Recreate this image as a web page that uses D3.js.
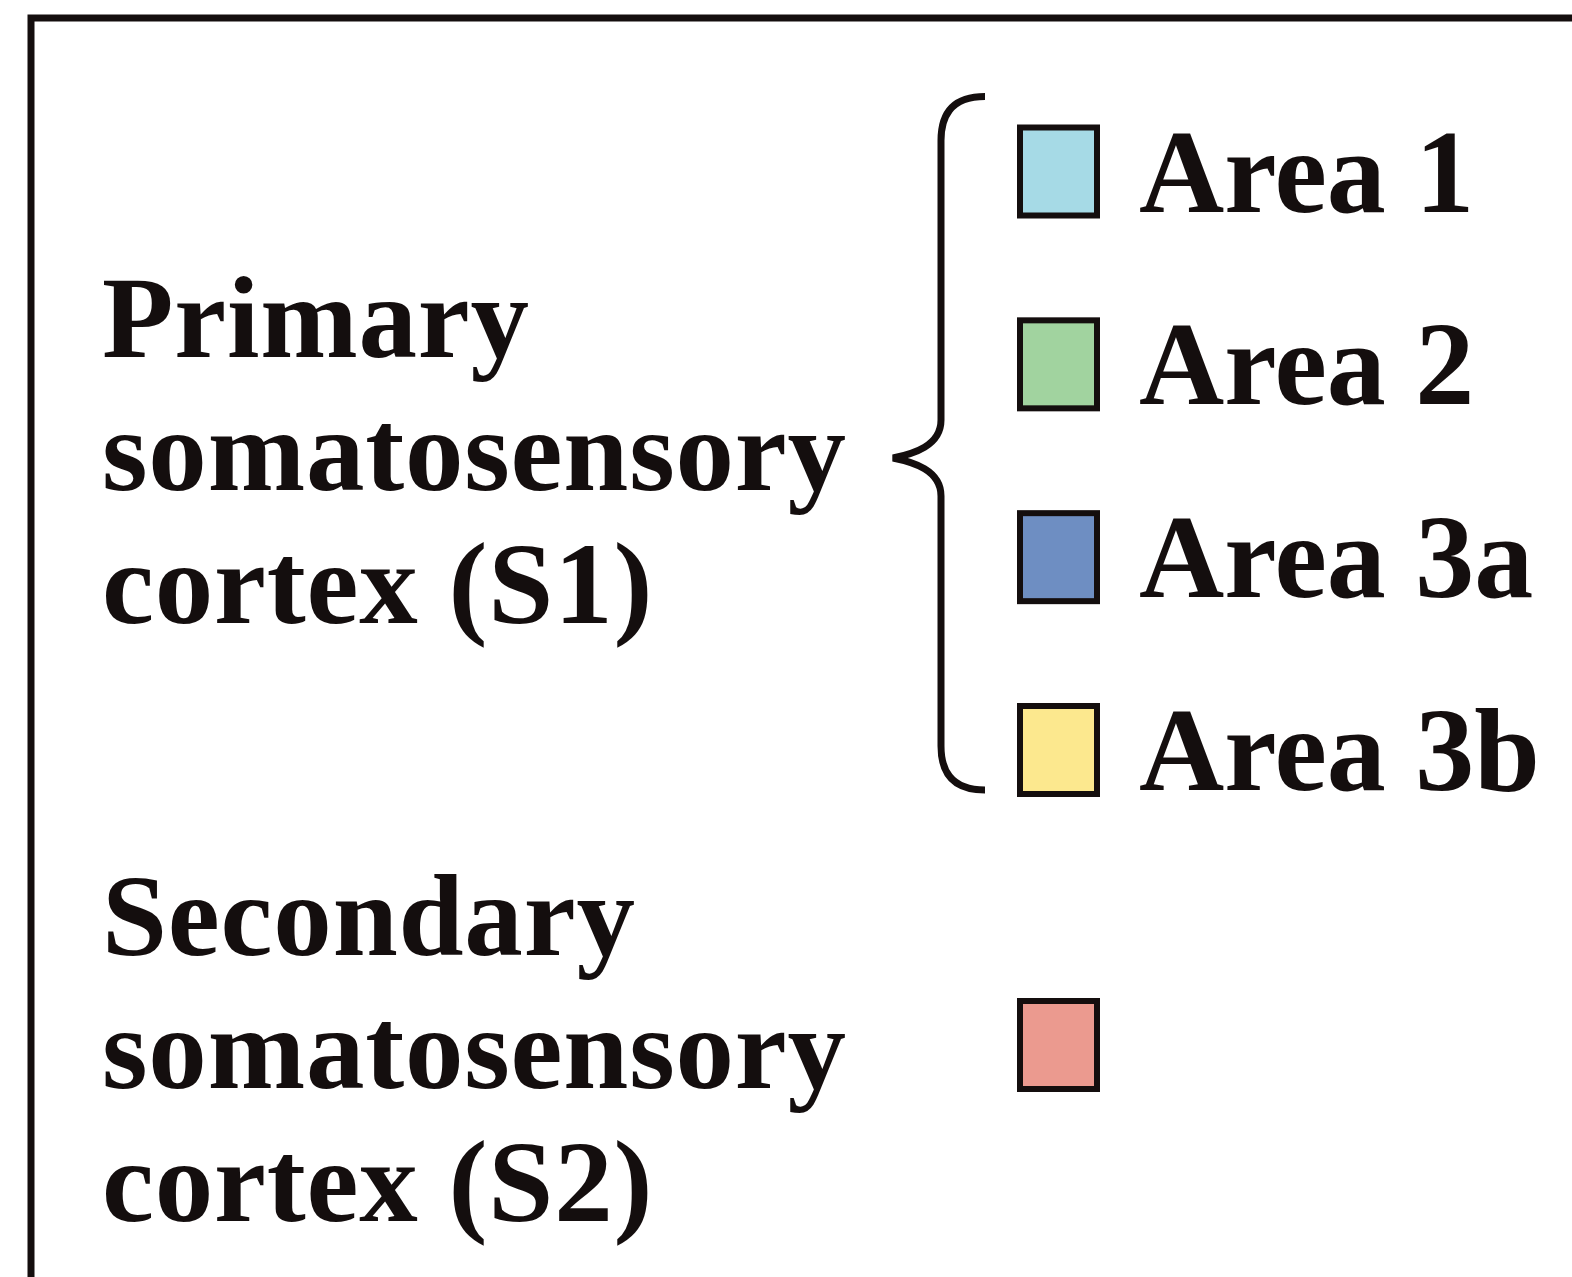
<!DOCTYPE html>
<html>
<head>
<meta charset="utf-8">
<script src="https://cdn.jsdelivr.net/npm/d3@7/dist/d3.min.js"></script>
<style>
  html, body { margin: 0; padding: 0; background: #fff; }
  svg { display: block; }
</style>
</head>
<body>
<svg id="chart" width="1572" height="1277"></svg>
<script>
// ---- data ----
const groupLabels = [
  ["Primary", "somatosensory", "cortex (S1)"],
  ["Secondary", "somatosensory", "cortex (S2)"]
];
const s1Areas = ["Area 1", "Area 2", "Area 3a", "Area 3b"];
const s1Colors = ["#a6dae6", "#a1d39f", "#6e8ec2", "#fce88e"];
const s2Label = ["S2"];
const s2Colors = ["#eb9a8f"];

// ---- layout ----
(function () {
  const W = 1572, H = 1277;
  const svg = d3.select("#chart");
  const ink = "#140e0e";

  // frame (right and bottom edges run off the picture)
  svg.append("rect")
    .attr("x", 31).attr("y", 18)
    .attr("width", W + 40).attr("height", H + 40)
    .attr("fill", "#fff").attr("stroke", ink).attr("stroke-width", 7);

  // vertical position of area swatch centres
  const yArea = d3.scalePoint().domain(s1Areas).range([171.5, 750]);
  const color = d3.scaleOrdinal().domain(s1Areas).range(s1Colors);

  const swW = 77, swH = 88;
  const swX = 1020;

  // S1 swatches
  svg.selectAll("rect.sw1").data(s1Areas).join("rect")
    .attr("class", "sw1")
    .attr("x", swX).attr("y", d => yArea(d) - swH / 2)
    .attr("width", swW).attr("height", swH)
    .attr("fill", d => color(d))
    .attr("stroke", ink).attr("stroke-width", 6);

  // S1 labels
  svg.selectAll("text.al").data(s1Areas).join("text")
    .attr("class", "al")
    .attr("x", 1139).attr("y", d => yArea(d) + 40)
    .attr("font-family", "'Liberation Serif', 'DejaVu Serif', serif")
    .attr("font-weight", "bold")
    .attr("font-size", 118)
    .attr("fill", ink)
    .text(d => d);

  // left group labels
  const lineGap = 133;
  const groupBaselines = [357, 955];
  groupLabels.forEach((lines, gi) => {
    svg.append("g").selectAll("text").data(lines).join("text")
      .attr("x", 102)
      .attr("y", (d, i) => groupBaselines[gi] + i * lineGap)
      .attr("font-family", "'Liberation Serif', 'DejaVu Serif', serif")
      .attr("font-weight", "bold")
      .attr("font-size", 117)
      .attr("letter-spacing", 0.8)
      .attr("fill", ink)
      .text(d => d);
  });

  // S2 swatch, centred on the middle line of its label
  const yS2 = d3.scalePoint().domain(s2Label).range([1045, 1045]);
  svg.selectAll("rect.sw2").data(s2Label).join("rect")
    .attr("class", "sw2")
    .attr("x", swX).attr("y", d => yS2(d) - swH / 2)
    .attr("width", swW).attr("height", swH)
    .attr("fill", (d, i) => s2Colors[i])
    .attr("stroke", ink).attr("stroke-width", 6);

  // curly brace grouping the S1 areas
  const yTop = yArea(s1Areas[0]) - 75;
  const yBot = yArea(s1Areas[s1Areas.length - 1]) + 40;
  const yMid = 458;
  const xEnd = 985, xV = 941, xTip = 893;
  const p = d3.path();
  p.moveTo(xEnd, yTop);
  p.bezierCurveTo(xV + 8, yTop, xV, yTop + 22, xV, yTop + 44);
  p.lineTo(xV, yMid - 38);
  p.bezierCurveTo(xV, yMid - 12, xTip + 20, yMid - 4, xTip, yMid);
  p.bezierCurveTo(xTip + 20, yMid + 4, xV, yMid + 12, xV, yMid + 38);
  p.lineTo(xV, yBot - 44);
  p.bezierCurveTo(xV, yBot - 22, xV + 8, yBot, xEnd, yBot);
  svg.append("path")
    .attr("d", p.toString())
    .attr("fill", "none")
    .attr("stroke", ink)
    .attr("stroke-width", 7)
    .attr("stroke-linecap", "butt");
})();
</script>
</body>
</html>
